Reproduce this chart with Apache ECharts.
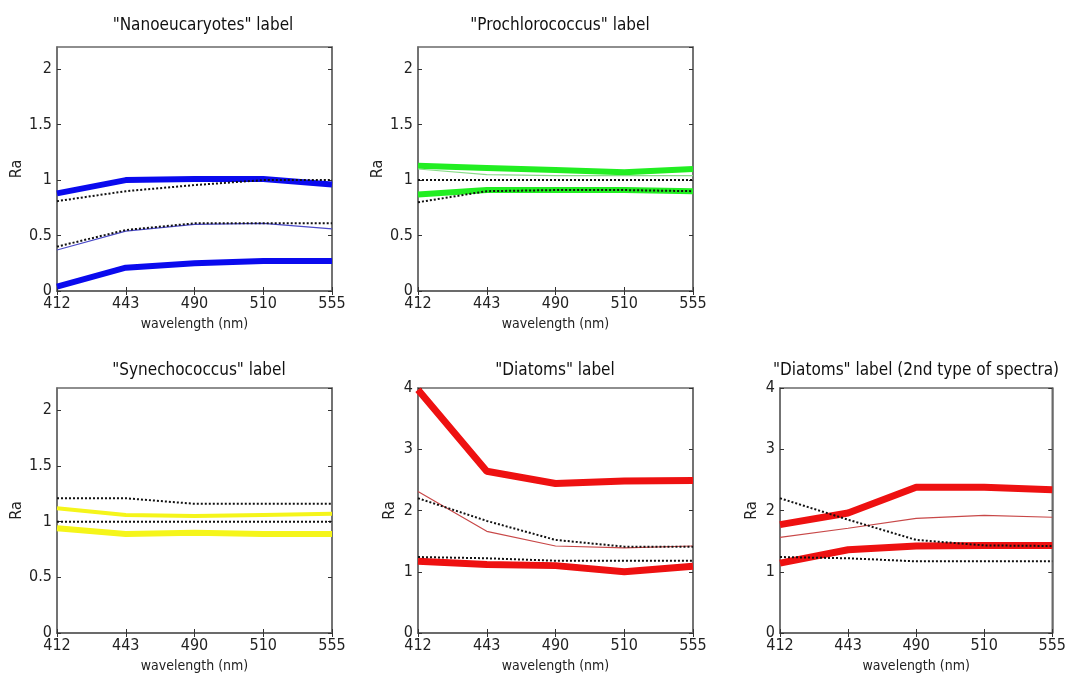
<!DOCTYPE html>
<html>
<head>
<meta charset="utf-8">
<script src="https://cdn.jsdelivr.net/npm/echarts@6/dist/echarts.min.js"></script>
<style>html,body{margin:0;padding:0;background:#fff}#c{width:1069px;height:680px}</style>
</head>
<body>
<div id="c"></div>
<script>
// ---- data ----
const wavelengths = ['412', '443', '490', '510', '555'];
const panelTitles = ['"Nanoeucaryotes" label', '"Prochlorococcus" label', '"Synechococcus" label', '"Diatoms" label', '"Diatoms" label (2nd type of spectra)'];

// Nanoeucaryotes
const nanoUpper = [0.88, 1.00, 1.01, 1.01, 0.96];
const nanoMean = [0.37, 0.54, 0.60, 0.61, 0.56];
const nanoLower = [0.04, 0.21, 0.25, 0.27, 0.27];
const nanoRefUpper = [0.81, 0.90, 0.955, 1.00, 1.00];
const nanoRefMean = [0.40, 0.55, 0.61, 0.61, 0.61];

// Prochlorococcus
const prochUpper = [1.13, 1.11, 1.09, 1.07, 1.10];
const prochMean = [1.10, 1.05, 1.04, 1.04, 1.04];
const prochLower = [0.87, 0.91, 0.91, 0.91, 0.90];
const prochRefUpper = [1.00, 1.00, 1.00, 1.00, 1.00];
const prochRefLower = [0.80, 0.90, 0.91, 0.91, 0.90];

// Synechococcus
const synUpper = [1.12, 1.06, 1.05, 1.06, 1.07];
const synLower = [0.94, 0.89, 0.90, 0.89, 0.89];
const synRefUpper = [1.21, 1.21, 1.16, 1.16, 1.16];
const synRefLower = [1.00, 1.00, 1.00, 1.00, 1.00];

// Diatoms
const diaUpper = [3.97, 2.64, 2.44, 2.48, 2.49];
const diaMean = [2.31, 1.66, 1.42, 1.39, 1.42];
const diaLower = [1.17, 1.12, 1.10, 1.00, 1.09];
const diaRefUpper = [2.20, 1.83, 1.52, 1.41, 1.41];
const diaRefLower = [1.24, 1.22, 1.18, 1.18, 1.18];

// Diatoms (2nd type)
const dia2Upper = [1.77, 1.96, 2.38, 2.38, 2.34];
const dia2Mean = [1.56, 1.71, 1.87, 1.92, 1.89];
const dia2Lower = [1.14, 1.36, 1.42, 1.43, 1.43];
const dia2RefUpper = [2.20, 1.85, 1.52, 1.43, 1.42];
const dia2RefLower = [1.24, 1.22, 1.17, 1.17, 1.17];

const yTicksSmall = {min: 0, max: 2.2, interval: 0.5};
const yTicksLarge = {min: 0, max: 4, interval: 1};

// ---- layout ----
const FONT = '"DejaVu Sans Condensed", "Liberation Sans", Arial, sans-serif';
const frame = '#6a6a6a';
const grids = [
  {left: 57, top: 47, width: 275, height: 244, titleX: 198, titleY: 12, y: yTicksSmall, nameGap: 30},
  {left: 418, top: 47, width: 275, height: 244, titleX: 555, titleY: 12, y: yTicksSmall, nameGap: 30},
  {left: 57, top: 388, width: 275, height: 245, titleX: 194, titleY: 357, y: yTicksSmall, nameGap: 30},
  {left: 418, top: 388, width: 275, height: 245, titleX: 550, titleY: 357, y: yTicksLarge, nameGap: 20},
  {left: 780, top: 388, width: 273, height: 245, titleX: 911, titleY: 357, y: yTicksLarge, nameGap: 20}
];

const thick = (c, w) => ({type: 'line', symbol: 'none', lineStyle: {color: c, width: w}, z: 2});
const thin = (c) => ({type: 'line', symbol: 'none', lineStyle: {color: c, width: 1.2}, z: 3});
const dotted = () => ({type: 'line', symbol: 'none', lineStyle: {color: '#111', width: 2, type: [2, 2]}, z: 4});

const panelSeries = [
  [[thick('#0a0aee', 6), nanoUpper], [thick('#0a0aee', 6), nanoLower], [thin('#4a4ac8'), nanoMean], [dotted(), nanoRefUpper], [dotted(), nanoRefMean]],
  [[thick('#22ee22', 6), prochUpper], [thick('#22ee22', 6), prochLower], [thin('#88dd88'), prochMean], [dotted(), prochRefUpper], [dotted(), prochRefLower]],
  [[thick('#f5f51a', 4), synUpper], [thick('#f5f51a', 6), synLower], [dotted(), synRefUpper], [dotted(), synRefLower]],
  [[thick('#ee1111', 7), diaUpper], [thick('#ee1111', 7), diaLower], [thin('#c84848'), diaMean], [dotted(), diaRefUpper], [dotted(), diaRefLower]],
  [[thick('#ee1111', 7), dia2Upper], [thick('#ee1111', 7), dia2Lower], [thin('#c84848'), dia2Mean], [dotted(), dia2RefUpper], [dotted(), dia2RefLower]]
];

const option = {
  animation: false,
  backgroundColor: '#fff',
  textStyle: {fontFamily: FONT},
  title: [], grid: [], xAxis: [], yAxis: [], series: []
};

grids.forEach((g, i) => {
  option.title.push({text: panelTitles[i], left: g.titleX, top: g.titleY, textAlign: 'center',
    textStyle: {fontFamily: FONT, fontSize: 17, fontWeight: 'normal', color: '#111'}});
  option.grid.push({left: g.left, top: g.top, width: g.width, height: g.height, show: true,
    borderColor: frame, borderWidth: 1.5, backgroundColor: '#fff'});
  const axisLine = {show: true, lineStyle: {color: frame, width: 1.5}};
  const tick = {show: true, inside: true, length: 4, lineStyle: {color: '#333', width: 1}};
  option.xAxis.push({type: 'category', gridIndex: i, data: wavelengths, boundaryGap: false, position: 'bottom',
    axisLine, axisTick: tick, splitLine: {show: false},
    axisLabel: {fontFamily: FONT, fontSize: 16, color: '#222', margin: 5},
    name: 'wavelength (nm)', nameLocation: 'middle', nameGap: 26,
    nameTextStyle: {fontFamily: FONT, fontSize: 14, color: '#222'}});
  option.xAxis.push({type: 'category', gridIndex: i, data: wavelengths, boundaryGap: false, position: 'top',
    axisLine, axisTick: tick, axisLabel: {show: false}, splitLine: {show: false}});
  option.yAxis.push({type: 'value', gridIndex: i, min: g.y.min, max: g.y.max, interval: g.y.interval, position: 'left',
    axisLine, axisTick: tick, splitLine: {show: false},
    axisLabel: {fontFamily: FONT, fontSize: 16, color: '#222', margin: 5, showMaxLabel: g.y.max % g.y.interval === 0},
    name: 'Ra', nameLocation: 'middle', nameGap: g.nameGap,
    nameTextStyle: {fontFamily: FONT, fontSize: 16, color: '#222'}});
  option.yAxis.push({type: 'value', gridIndex: i, min: g.y.min, max: g.y.max, interval: g.y.interval, position: 'right',
    axisLine, axisTick: tick, axisLabel: {show: false}, splitLine: {show: false}});
  panelSeries[i].forEach(([base, data]) => {
    option.series.push(Object.assign({}, base, {xAxisIndex: i * 2, yAxisIndex: i * 2, data: data}));
  });
});

const chart = echarts.init(document.getElementById('c'), null, {renderer: 'canvas'});
chart.setOption(option);
</script>
</body>
</html>
